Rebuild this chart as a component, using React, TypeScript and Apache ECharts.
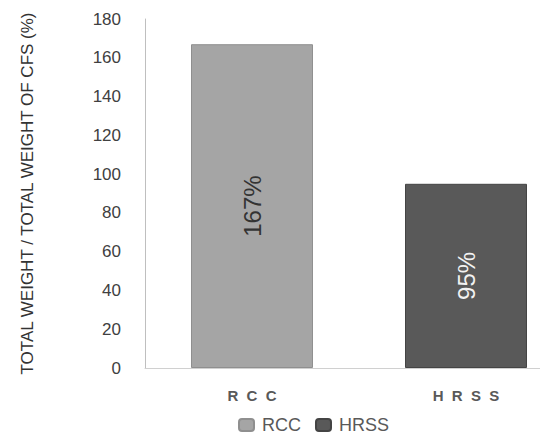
import React, { useEffect, useRef } from "react";
import * as echarts from "echarts";

// Ratio of total weight to the total weight of CFS, in percent
const categories = ["RCC", "HRSS"];
const rccValues = [167, null];
const hrssValues = [null, 95];
const yTicks = { min: 0, max: 180, interval: 20 };

const catLabel = (s: string) => s.split("").join("  ");

export default function App() {
  const ref = useRef<HTMLDivElement>(null);
  useEffect(() => {
    document.body.style.margin = "0";
    const chart = echarts.init(ref.current!, null, { renderer: "svg" });
    const labelBase = {
      show: true,
      position: "inside" as const,
      rotate: 90,
      fontSize: 24,
      fontFamily: "Liberation Sans Narrow, Liberation Sans, sans-serif",
      formatter: (p: any) => `${p.value}%`,
    };
    chart.setOption({
      animation: false,
      grid: { left: 145, right: 0, top: 19, bottom: 71, containLabel: false },
      legend: {
        bottom: 0,
        left: 233,
        itemWidth: 15,
        itemHeight: 12,
        itemGap: 14,
        textStyle: {
          fontSize: 18,
          color: "#595959",
          padding: [0, 0, 0, 3],
          fontFamily: "Liberation Sans, sans-serif",
        },
        data: ["RCC", "HRSS"],
      },
      xAxis: {
        type: "category",
        data: categories,
        axisLine: { lineStyle: { color: "#d0d0d0", width: 1 } },
        axisTick: { show: false },
        axisLabel: {
          formatter: (v: string) => catLabel(v),
          fontSize: 15,
          color: "#595959",
          margin: 20,
          fontFamily: "Liberation Sans, sans-serif",
          fontWeight: "bold",
        },
      },
      yAxis: {
        type: "value",
        min: yTicks.min,
        max: yTicks.max,
        interval: yTicks.interval,
        name: "TOTAL WEIGHT / TOTAL WEIGHT OF CFS (%)",
        nameLocation: "middle",
        nameGap: 109,
        nameTextStyle: {
          fontSize: 17,
          color: "#333",
          fontFamily: "Liberation Sans Narrow, Liberation Sans, sans-serif",
        },
        axisLine: { show: true, lineStyle: { color: "#bfbfbf" } },
        axisTick: { show: false },
        splitLine: { show: false },
        axisLabel: {
          fontSize: 17,
          color: "#404040",
          margin: 24,
          fontFamily: "Liberation Sans, sans-serif",
        },
      },
      series: [
        {
          name: "RCC",
          type: "bar",
          stack: "all",
          data: rccValues,
          barWidth: "57%",
          itemStyle: { color: "#a5a5a5", borderColor: "#8f8f8f", borderWidth: 1 },
          label: { ...labelBase, color: "#333" },
        },
        {
          name: "HRSS",
          type: "bar",
          stack: "all",
          data: hrssValues,
          barWidth: "57%",
          itemStyle: { color: "#595959", borderColor: "#444", borderWidth: 1 },
          label: { ...labelBase, color: "#f2f2f2" },
        },
      ],
    });
    return () => chart.dispose();
  }, []);
  return (
    <div style={{ width: 540, height: 439, overflow: "hidden" }}>
      <div ref={ref} style={{ width: 573, height: 439 }} />
    </div>
  );
}
